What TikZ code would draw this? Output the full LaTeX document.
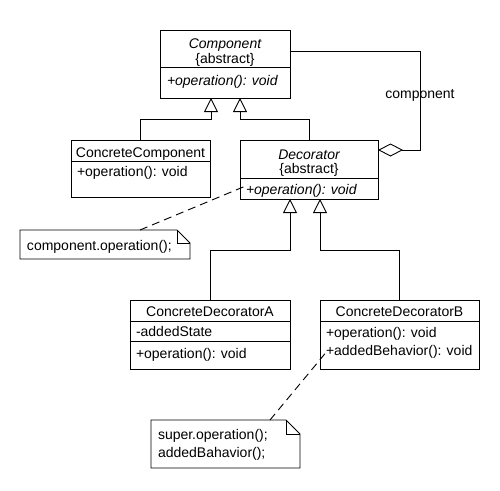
\documentclass[tikz,border=0pt]{standalone}
\usepackage{fontspec}
\setmainfont{Liberation Sans}
\usetikzlibrary{arrows.meta,calc}
\begin{document}
\begin{tikzpicture}[x=1pt,y=-1pt,
  every node/.style={font=\fontsize{14}{16}\selectfont, inner sep=0pt, outer sep=0pt},
  line width=0.9pt,
  cls/.style={draw, anchor=north west},
  txt/.style={anchor=base},
  txtl/.style={anchor=base west},
  inh/.style={-{Triangle[open,length=14pt,width=14pt]}},
  agg/.style={-{Diamond[open,length=25pt,width=13pt]}},
  notebox/.style={anchor=north west},
  noteline/.style={dash pattern=on 8pt off 5pt}]
\fill[white] (0,0) rectangle (500,490);
\useasboundingbox (0,0) rectangle (500,490);

% Component
\node[cls, minimum width=130pt, minimum height=68pt] (comp) at (160,30) {};
\draw ($(comp.north west)+(0,37)$) -- ($(comp.north east)+(0,37)$);
\node[txt] (compname) at (225,48) {\itshape Component};
\node[txt] (compabs) at (225,63) {\{abstract\}};
\node[txtl] (compop) at (167,85) {\itshape +operation(): void};

% ConcreteComponent
\node[cls, minimum width=139pt, minimum height=57pt] (cc) at (71,140) {};
\draw ($(cc.north west)+(0,21)$) -- ($(cc.north east)+(0,21)$);
\node[txt] (ccname) at (140.5,157) {ConcreteComponent};
\node[txtl] (ccop) at (77,176) {+operation(): void};

% Decorator
\node[cls, minimum width=138pt, minimum height=59pt] (dec) at (240,140) {};
\draw ($(dec.north west)+(0,38)$) -- ($(dec.north east)+(0,38)$);
\node[txt] (decname) at (309,159) {\itshape Decorator};
\node[txt] (decabs) at (309,173) {\{abstract\}};
\node[txtl] (decop) at (246,194) {\itshape +operation(): void};

% ConcreteDecoratorA
\node[cls, minimum width=160pt, minimum height=69pt] (cda) at (130,300) {};
\draw ($(cda.north west)+(0,21)$) -- ($(cda.north east)+(0,21)$);
\draw ($(cda.north west)+(0,41)$) -- ($(cda.north east)+(0,41)$);
\node[txt] (cdaname) at (210,316) {ConcreteDecoratorA};
\node[txtl] (cdaattr) at (136,336) {-addedState};
\node[txtl] (cdaop) at (136,358) {+operation(): void};

% ConcreteDecoratorB
\node[cls, minimum width=159pt, minimum height=69pt] (cdb) at (320,300) {};
\draw ($(cdb.north west)+(0,21)$) -- ($(cdb.north east)+(0,21)$);
\node[txt] (cdbname) at (399.5,316) {ConcreteDecoratorB};
\node[txtl] (cdbop) at (326,337) {+operation(): void};
\node[txtl] (cdbbeh) at (326,355) {+addedBehavior(): void};

% inheritance
\draw[inh] (cc.north) |- ($(comp.south west)+(51,21)$) -- ($(comp.south west)+(51,0)$);
\draw[inh] (dec.north) |- ($(comp.south west)+(80,21)$) -- ($(comp.south west)+(80,0)$);
\draw[inh] (cda.north) |- ($(dec.south west)+(50,51)$) -- ($(dec.south west)+(50,0)$);
\draw[inh] (cdb.north) |- ($(dec.south west)+(80,51)$) -- ($(dec.south west)+(80,0)$);

% aggregation
\coordinate (aggtop) at (420,51);
\coordinate (aggbot) at (420,150);
\draw[agg] ($(comp.north east)+(0,21)$) -- (aggtop) -- (aggbot) -- ($(dec.north east)+(0,10)$);
\node[txt] (agglbl) at (420,98) {component};

% note 1
\node[notebox, minimum width=170pt, minimum height=29pt] (n1) at (20,230) {};
\draw (n1.north west) -- ($(n1.north east)+(-13,0)$) -- ($(n1.north east)+(0,13)$) -- (n1.south east) -- (n1.south west) -- cycle;
\draw ($(n1.north east)+(-13,0)$) |- ($(n1.north east)+(0,13)$);
\node[txtl] (n1txt) at (27,250) {component.operation();};
\draw[noteline] ($(n1.north west)+(120,0)$) -- ($(dec.south west)+(8,-14)$);

% note 2
\node[notebox, minimum width=149pt, minimum height=48pt] (n2) at (151,420) {};
\draw (n2.north west) -- ($(n2.north east)+(-14,0)$) -- ($(n2.north east)+(0,14)$) -- (n2.south east) -- (n2.south west) -- cycle;
\draw ($(n2.north east)+(-14,0)$) |- ($(n2.north east)+(0,14)$);
\node[txtl] (n2a) at (158,439) {super.operation();};
\node[txtl] (n2b) at (158,457) {addedBahavior();};
\draw[noteline] ($(n2.north west)+(119,0)$) -- ($(cdb.south west)+(8,-19)$);
\end{tikzpicture}
\end{document}
